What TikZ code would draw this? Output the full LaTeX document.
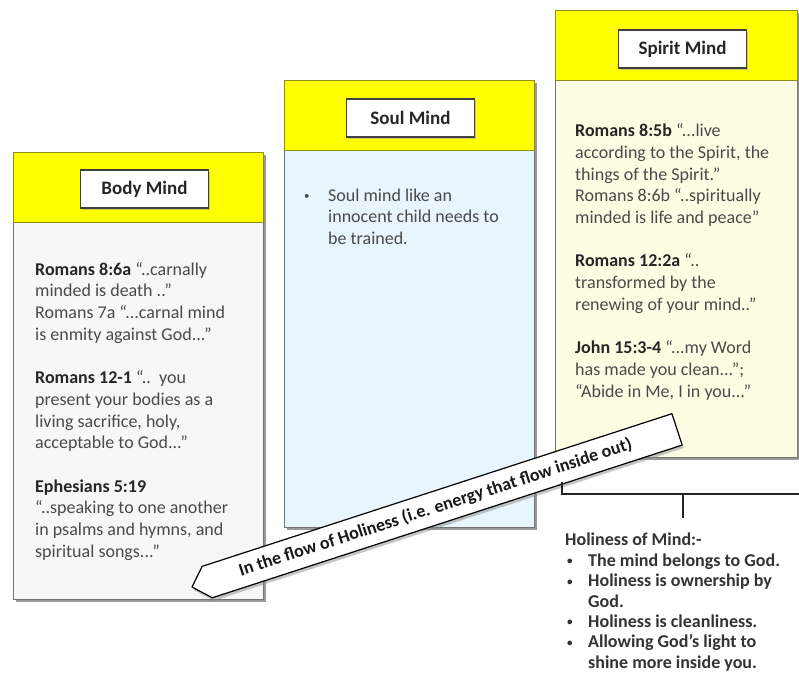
\documentclass[tikz,border=0pt]{standalone}
\usepackage{fontspec}
\setmainfont{Carlito}
\usetikzlibrary{shadows}

\definecolor{hdr}{HTML}{FFFF00}
\definecolor{hdrline}{HTML}{8C8C1E}
\definecolor{bodyfill}{HTML}{F7F7F7}
\definecolor{soulfill}{HTML}{E8F5FC}
\definecolor{spiritfill}{HTML}{FDFDE3}
\definecolor{txt}{HTML}{4A4A4A}
\definecolor{reftxt}{HTML}{262626}

\newcommand\scrip[1]{\textbf{\color{reftxt}#1}}
\newcommand\smallbullet{\raisebox{1.5pt}{\fontsize{11}{11}\selectfont •}}

\tikzset{
  panel/.style={draw=black!55, line width=1pt, anchor=north west, inner sep=0pt,
    minimum width=250pt, minimum height=447pt,
    drop shadow={shadow xshift=2.5pt, shadow yshift=-2.5pt, fill=black!50, opacity=.8}},
  header/.style={draw=hdrline, fill=hdr, line width=1pt, anchor=north west, inner sep=0pt,
    minimum width=250pt, minimum height=70pt},
  titlebox/.style={draw=black!75, line width=1.4pt, fill=white, inner sep=0pt,
    minimum width=128pt, minimum height=38pt, text=black!85,
    font=\fontsize{19}{22}\selectfont\bfseries,
    drop shadow={shadow xshift=1.5pt, shadow yshift=-1.5pt, fill=black!40}},
  verse/.style={anchor=north west, inner sep=0pt, align=left, text=txt,
    font=\fontsize{18}{21.7}\selectfont},
  holy/.style={anchor=north west, inner sep=0pt, align=left, text=black!80,
    font=\fontsize{18}{20.4}\selectfont\bfseries},
  flowarrow/.style={draw=black, line width=1.2pt, fill=white, line join=round,
    drop shadow={shadow xshift=1.5pt, shadow yshift=-3pt, fill=black!45}},
  bracket/.style={draw=black!85, line width=1.2pt},
}

\begin{document}
\begin{tikzpicture}[x=1pt, y=-1pt]
  \useasboundingbox[fill=white] (0,0) rectangle (799,680);

  % Body Mind column
  \node[panel, fill=bodyfill] (body) at (13,152) {};
  \node[header] (bodyhead) at (body.north west) {};
  \node[titlebox] (bodytitle) at (144.5,189) {Body Mind};
  \node[verse] (bodytext) at (35,262) {%
    \scrip{Romans 8:6a} “..carnally\\
    minded is death ..”\\
    Romans 7a “...carnal mind\\
    is enmity against God...”\\[21.7pt]
    \scrip{Romans 12-1} “..~~you\\
    present your bodies as a\\
    living sacrifice, holy,\\
    acceptable to God...”\\[21.7pt]
    \scrip{Ephesians 5:19}\\
    “..speaking to one another\\
    in psalms and hymns, and\\
    spiritual songs...”};

  % Soul Mind column
  \node[panel, fill=soulfill] (soul) at (284,80) {};
  \node[header] (soulhead) at (soul.north west) {};
  \node[titlebox] (soultitle) at (410.5,118) {Soul Mind};
  \node[verse] (soultext) at (304,188.5) {%
    \makebox[24pt][l]{\smallbullet}Soul mind like an\\
    \hspace*{24pt}innocent child needs to\\
    \hspace*{24pt}be trained.};

  % Spirit Mind column (runs to the right edge)
  \node[panel, fill=spiritfill, minimum width=242pt] (spirit) at (555,10) {};
  \node[header, minimum width=242pt] (spirithead) at (spirit.north west) {};
  \node[titlebox] (spirittitle) at (682.5,49) {Spirit Mind};
  \node[verse] (spirittext) at (575,123.5) {%
    \scrip{Romans 8:5b} “...live\\
    according to the Spirit, the\\
    things of the Spirit.”\\
    Romans 8:6b “..spiritually\\
    minded is life and peace”\\[21.7pt]
    \scrip{Romans 12:2a} “..\\
    transformed by the\\
    renewing of your mind..”\\[21.7pt]
    \scrip{John 15:3-4} “...my Word\\
    has made you clean...”;\\
    “Abide in Me, I in you...”};

  % Flow arrow pointing back to the body
  \begin{scope}[shift={(192,587)}, rotate=18]
    \draw[flowarrow] (0,0) -- (16,-16.5) -- (510,-16.5) -- (510,16.5) -- (16,16.5) -- cycle;
    \node[transform shape, inner sep=0pt, text=black!90,
          font=\fontsize{18}{20}\selectfont\bfseries] (flowlabel) at (256,0)
      {In the flow of Holiness (i.e. energy that flow inside out)};
  \end{scope}

  % Bracket under the spirit column
  \coordinate (brleft) at (562,482);
  \coordinate (brcorner) at (562,494);
  \coordinate (brright) at (805,494);
  \coordinate (brmid) at (683,494);
  \coordinate (brstem) at (683,518);
  \draw[bracket] (brleft) -- (brcorner) -- (brright);
  \draw[bracket] (brmid) -- (brstem);

  % Holiness of mind list
  \node[holy] (holiness) at (565,533) {%
    Holiness of Mind:-\\
    \hspace*{2pt}\makebox[21pt][l]{\smallbullet}The mind belongs to God.\\
    \hspace*{2pt}\makebox[21pt][l]{\smallbullet}Holiness is ownership by\\
    \hspace*{23pt}God.\\
    \hspace*{2pt}\makebox[21pt][l]{\smallbullet}Holiness is cleanliness.\\
    \hspace*{2pt}\makebox[21pt][l]{\smallbullet}Allowing God’s light to\\
    \hspace*{23pt}shine more inside you.};
\end{tikzpicture}
\end{document}
